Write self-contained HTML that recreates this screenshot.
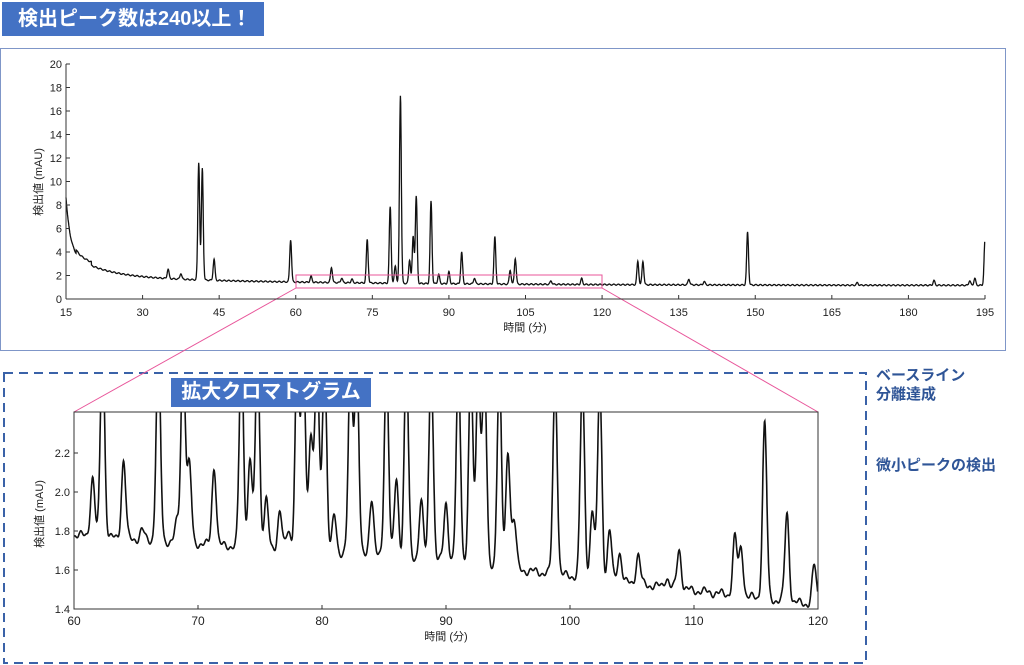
<!DOCTYPE html>
<html><head><meta charset="utf-8"><style>
body{margin:0;width:1024px;height:665px;background:#fff;overflow:hidden;position:relative;font-family:"Liberation Sans","Noto Sans CJK JP",sans-serif}
.t1{position:absolute;left:2px;top:2px;width:262px;height:34px;background:#4472C4;color:#fff;font-weight:bold;font-size:20px;line-height:34px;padding-left:16px;box-sizing:border-box}
.t2{position:absolute;left:171px;top:378px;width:200px;height:29px;background:#4472C4;color:#fff;font-weight:bold;font-size:20px;line-height:29px;text-align:center}
.r{position:absolute;left:876px;color:#2F5597;font-weight:bold;font-size:15px;line-height:19px}
svg{position:absolute;left:0;top:0}
</style></head><body>
<svg width="1024" height="665" id="s" font-family="Liberation Sans, Noto Sans CJK JP, sans-serif">
<rect x="0.5" y="48.5" width="1005" height="302" fill="none" stroke="#7F96C8" stroke-width="1"/>
<rect x="4" y="373" width="862" height="290" fill="none" stroke="#3A62A8" stroke-width="2" stroke-dasharray="9,6"/>
<line x1="296" y1="288" x2="74" y2="412" stroke="#E8559A" stroke-width="1"/>
<line x1="602" y1="288" x2="818" y2="412" stroke="#E8559A" stroke-width="1"/>
<g id="top"></g><g id="bot"></g>
<rect x="296" y="275" width="306" height="13" fill="none" stroke="#E8559A" stroke-width="1"/>
</svg>
<div class="t1">検出ピーク数は240以上！</div>
<div class="t2">拡大クロマトグラム</div>
<div class="r" style="top:366px">ベースライン<br>分離達成</div>
<div class="r" style="top:456px">微小ピークの検出</div>
<script>
var NS="http://www.w3.org/2000/svg";
function el(p,t,a,txt){var e=document.createElementNS(NS,t);for(var k in a)e.setAttribute(k,a[k]);if(txt!=null)e.textContent=txt;p.appendChild(e);return e;}
function g(t,c,w){return Math.exp(-0.5*Math.pow((t-c)/w,2));}
var T=document.getElementById('top');
var X=function(t){return 66+(t-15)*(919/180);},Y=function(v){return 299-v*11.75;};
var tp=[[35,.8],[37.5,.5],[41,10],[41.7,9.5],[44,1.8],[59,3.6],[63,.5],[67,1.3],[69,.4],[71,.3],[74,3.7],[78.5,6.5],[79.5,1.5],[80.5,16],[82.3,2],[83,4],[83.6,7.4],[86.5,7],[88,.8],[90,1],[92.5,2.7],[95,.5],[99,4],[102,1.2],[103,2.2],[110,.3],[116,.5],[127,2],[128,2],[137,.5],[140,.3],[148.5,4.5],[170,.2],[185,.4],[192,.4],[193,.6],[195,3.8]];
var d="";
for(var t=15;t<=195;t+=0.05){
 var b=1.15+0.8*Math.exp(-(t-15)/45)+1.6*Math.exp(-(t-17)/6)*(t>17?1:1)+4.5*Math.exp(-(t-15)/0.8);
 if(t>17&&t<20)b+=0.3;
 var v=b+0.05*Math.sin(t*7);for(var i=0;i<tp.length;i++)v+=tp[i][1]*g(t,tp[i][0],0.18);
 d+=(d?"L":"M")+X(t).toFixed(1)+","+Y(v).toFixed(1);}
el(T,"path",{d:d,fill:"none",stroke:"#111","stroke-width":1.3});
el(T,"line",{x1:66,y1:64,x2:66,y2:299,stroke:"#333"});
el(T,"line",{x1:66,y1:299,x2:985,y2:299,stroke:"#333"});
for(var v=0;v<=20;v+=2){el(T,"line",{x1:66,y1:Y(v),x2:70,y2:Y(v),stroke:"#333"});el(T,"text",{x:62,y:Y(v)+4,"font-size":11,"text-anchor":"end",fill:"#222"},v);}
for(var t=15;t<=195;t+=15){el(T,"line",{x1:X(t),y1:299,x2:X(t),y2:295,stroke:"#333"});el(T,"text",{x:X(t),y:316,"font-size":11,"text-anchor":"middle",fill:"#222"},t);}
el(T,"text",{x:525,y:331,"font-size":11,"text-anchor":"middle",fill:"#222"},"時間 (分)");
el(T,"text",{x:0,y:0,"font-size":11,"text-anchor":"middle",fill:"#222",transform:"translate(42,182) rotate(-90)"},"検出値 (mAU)");
var B=document.getElementById('bot');
var X2=function(t){return 74+(t-60)*12.4;},Y2=function(v){return 609-(v-1.4)*195;};
var bp=[[61.5,.3],[62.3,1],[64,.4],[65.5,.05],[66.8,1],[68.3,.1],[68.8,1],[69.3,.4],[71.3,.4],[73.5,1],[74.2,.45],[74.8,1],[75.5,.25],[76.6,.2],[77.3,.1],[78,1],[78.5,1],[79.1,.6],[79.6,1],[80.2,1],[81,.2],[82.3,1],[82.8,1],[84,.3],[85.2,1],[86,.4],[86.8,1],[88,.3],[88.8,1],[90,.3],[91,1],[92,1],[92.6,1],[93.1,1],[94.3,1],[95,.6],[95.5,.25],[98.8,1],[101,1],[101.8,.35],[102.4,1],[103.2,.25],[104,.15],[105.5,.15],[107.8,.05],[108.8,.2],[113.3,.3],[113.8,.25],[115.7,.9],[117.5,.45],[119.7,.2]];
d="";
for(var t=60;t<=120;t+=0.03){var b=1.78-0.0045*(t-60)-(t>90?0.003*(t-90):0);var v=b+0.015*Math.sin(t*5)+0.01*Math.sin(t*13);
 for(var i=0;i<bp.length;i++)v+=bp[i][1]*g(t,bp[i][0],0.17);
 d+=(d?"L":"M")+X2(t).toFixed(1)+","+Y2(v).toFixed(1);}
el(B,"clipPath",{id:"c"});el(document.getElementById('c'),"rect",{x:74,y:412,width:744,height:197});
el(B,"path",{d:d,fill:"none",stroke:"#111","stroke-width":1.6,"clip-path":"url(#c)"});
el(B,"rect",{x:74,y:412,width:744,height:197,fill:"none",stroke:"#333"});
[1.4,1.6,1.8,2.0,2.2].forEach(function(v){el(B,"line",{x1:74,y1:Y2(v),x2:78,y2:Y2(v),stroke:"#333"});el(B,"text",{x:70,y:Y2(v)+4,"font-size":11,"text-anchor":"end",fill:"#222"},v.toFixed(1));});
for(var t=60;t<=120;t+=10){el(B,"line",{x1:X2(t),y1:609,x2:X2(t),y2:605,stroke:"#333"});el(B,"text",{x:X2(t),y:625,"font-size":12,"text-anchor":"middle",fill:"#222"},t);}
el(B,"text",{x:446,y:640,"font-size":11,"text-anchor":"middle",fill:"#222"},"時間 (分)");
el(B,"text",{x:0,y:0,"font-size":11,"text-anchor":"middle",fill:"#222",transform:"translate(43,514) rotate(-90)"},"検出値 (mAU)");
</script>
</body></html>
